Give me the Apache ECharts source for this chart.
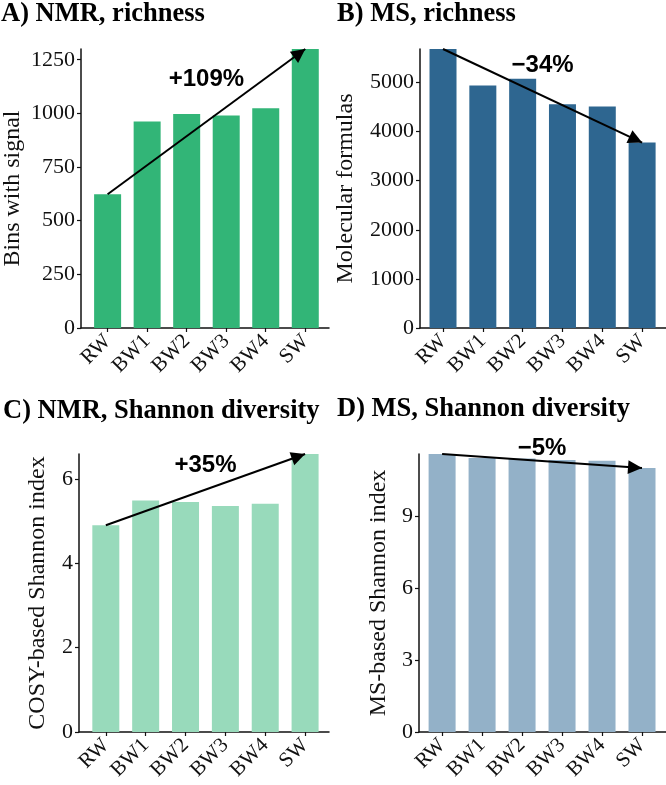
<!DOCTYPE html>
<html>
<head>
<meta charset="utf-8">
<script src="https://cdn.jsdelivr.net/npm/echarts@6/dist/echarts.min.js"></script>
<style>
  html, body { margin: 0; padding: 0; background: #fff; }
  #chart { width: 666px; height: 785px; }
</style>
</head>
<body>
<div id="chart"></div>
<script>
// data
const categories = ['RW', 'BW1', 'BW2', 'BW3', 'BW4', 'SW']
const nmrRichness = [623, 962, 997, 990, 1024, 1300]
const msRichness = [5682, 4939, 5076, 4559, 4510, 3776]
const nmrShannon = [4.90, 5.49, 5.45, 5.36, 5.41, 6.59]
const msShannon = [11.62, 11.45, 11.43, 11.37, 11.34, 11.03]
const changeLabels = ['+109%', '\u221234%', '+35%', '\u22125%']
const panelTitles = ['A) NMR, richness', 'B) MS, richness', 'C) NMR, Shannon diversity', 'D) MS, Shannon diversity']
const yNames = ['Bins with signal', 'Molecular formulas', 'COSY-based Shannon index', 'MS-based Shannon index']
const yTicks = [
  [0, 250, 500, 750, 1000, 1250],
  [0, 1000, 2000, 3000, 4000, 5000],
  [0, 2, 4, 6],
  [0, 3, 6, 9],
]

const serif = '"Liberation Serif", "Times New Roman", serif'
const sans = '"Liberation Sans", Arial, sans-serif'
const ink = '#111'

// layout per panel (labelLift = px above the arrow's midpoint)
const panels = [
  { values: nmrRichness, color: '#32b577', grid: { left: 79, top: 49, width: 250, height: 279 }, xMin: -0.673, xMax: 5.6, nameGap: 56, title: { left: 1, top: 1 }, labelLift: 42 },
  { values: msRichness, color: '#2e6690', grid: { left: 420, top: 49, width: 246, height: 279 }, xMin: -0.578, xMax: 5.6, nameGap: 62, title: { left: 337, top: 1 }, labelLift: 30 },
  { values: nmrShannon, color: '#98dabb', grid: { left: 79, top: 454, width: 250, height: 278 }, xMin: -0.673, xMax: 5.6, nameGap: 29, title: { left: 3, top: 398 }, labelLift: 24 },
  { values: msShannon, color: '#93b1c8', grid: { left: 419, top: 454, width: 247, height: 278 }, xMin: -0.578, xMax: 5.6, nameGap: 28, title: { left: 337, top: 396 }, labelLift: 13 },
]

const axisLine = () => ({ show: true, onZero: false, lineStyle: { color: ink, width: 1.5 } })
const axisTick = (values) => ({ show: true, length: 4, customValues: values, lineStyle: { color: ink, width: 1.2 } })

const chart = echarts.init(document.getElementById('chart'))

chart.setOption({
  animation: false,
  title: panels.map((p, i) => ({
    text: panelTitles[i],
    left: p.title.left,
    top: p.title.top,
    padding: 0,
    textStyle: { fontFamily: serif, fontWeight: 'bold', fontSize: 26.5, color: '#000' },
  })),
  grid: panels.map((p) => ({ ...p.grid, containLabel: false })),
  xAxis: panels.map((p, i) => ({
    type: 'value',
    gridIndex: i,
    min: p.xMin,
    max: p.xMax,
    axisLine: axisLine(),
    axisTick: axisTick(categories.map((_, k) => k)),
    axisLabel: {
      customValues: categories.map((_, k) => k),
      formatter: (v) => categories[Math.round(v)],
      rotate: 45,
      margin: 10,
      fontFamily: serif,
      fontSize: 21,
      color: ink,
    },
    splitLine: { show: false },
  })),
  yAxis: panels.map((p, i) => ({
    type: 'value',
    gridIndex: i,
    min: 0,
    max: Math.max(...p.values),
    name: yNames[i],
    nameLocation: 'middle',
    nameGap: p.nameGap,
    nameTextStyle: { fontFamily: serif, fontSize: 24, color: ink },
    axisLine: axisLine(),
    axisTick: axisTick(yTicks[i]),
    axisLabel: { customValues: yTicks[i], formatter: (v) => String(v), fontFamily: serif, fontSize: 22, color: ink, margin: 6 },
    splitLine: { show: false },
  })),
  series: panels.map((p, i) => {
    const last = p.values.length - 1
    return {
      type: 'bar',
      xAxisIndex: i,
      yAxisIndex: i,
      barWidth: 27,
      data: p.values.map((v, k) => [k, v]),
      itemStyle: { color: p.color },
      markLine: {
        silent: true,
        symbol: ['none', 'triangle'],
        symbolSize: 14,
        symbolOffset: [[0, 0], [0, 7]],
        lineStyle: { color: '#000', width: 2, type: 'solid' },
        label: { show: false },
        data: [[{ coord: [0, p.values[0]] }, { coord: [last, p.values[last]] }]],
      },
      markPoint: {
        silent: true,
        symbol: 'circle',
        symbolSize: 0,
        label: {
          show: true,
          position: 'inside',
          offset: [0, -p.labelLift],
          formatter: changeLabels[i],
          fontFamily: sans,
          fontWeight: 'bold',
          fontSize: 24,
          color: '#000',
        },
        data: [{ coord: [last / 2, (p.values[0] + p.values[last]) / 2] }],
      },
    }
  }),
})
</script>
</body>
</html>
